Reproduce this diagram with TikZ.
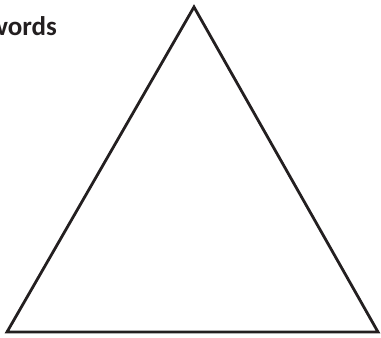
\documentclass[tikz,border=0pt]{standalone}
\usepackage{fontspec}
\setmainfont{Carlito}
\definecolor{ink}{HTML}{231F20}
\begin{document}
\begin{tikzpicture}[x=1pt,y=1pt,
  edge/.style={draw=ink,line width=2.8pt,line join=miter},
  lbl/.style={text=ink,font=\bfseries\fontsize{27}{30}\selectfont,inner sep=0pt}]
\useasboundingbox (0,0) rectangle (381,338);
\begin{scope}
\clip (0,0) rectangle (381,338);
\node[lbl,anchor=base east] (w) at (57,302) {words};
\end{scope}
\coordinate (top) at (194,331);
\coordinate (bl) at (7,6);
\coordinate (br) at (378,6);
\draw[edge] (top) -- (bl) -- (br) -- cycle;
\end{tikzpicture}
\end{document}
